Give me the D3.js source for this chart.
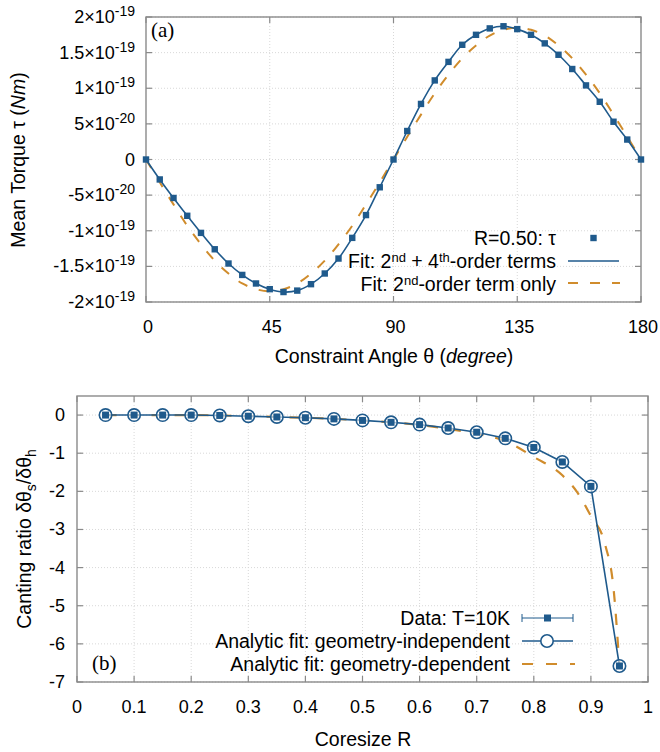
<!DOCTYPE html>
<html>
<head>
<meta charset="utf-8">
<script src="https://cdn.jsdelivr.net/npm/d3@7"></script>
<style>
  body { margin: 0; background: #fff; }
  svg { display: block; font-family: "Liberation Sans", Arial, sans-serif; }
</style>
</head>
<body>
<div id="chart"></div>
<script>
// ---- panel (a): mean torque vs constraint angle ----
const angles = [0,5,10,15,20,25,30,35,40,45,50,55,60,65,70,75,80,85,90,
  95,100,105,110,115,120,125,130,135,140,145,150,155,160,165,170,175,180];
// values in units of 1e-19 Nm
const torque = [0,-0.28,-0.54,-0.79,-1.03,-1.26,-1.46,-1.62,-1.74,-1.82,-1.86,-1.84,-1.75,-1.60,-1.39,-1.10,-0.78,-0.39,0,
  0.40,0.78,1.11,1.37,1.61,1.75,1.84,1.87,1.83,1.75,1.63,1.47,1.27,1.04,0.81,0.53,0.28,0];
const fit2Angles = [0,5,10,15,20,25,30,35,40,45,50,55,60,65,70,75,80,85,90,
  95,100,105,110,115,120,125,130,135,140,145,150,155,160,165,170,175,180];
const fit2 = [0,-0.32,-0.63,-0.93,-1.19,-1.42,-1.60,-1.74,-1.82,-1.85,-1.82,-1.74,-1.60,-1.42,-1.19,-0.93,-0.63,-0.32,0,
  0.32,0.63,0.93,1.19,1.42,1.60,1.74,1.82,1.85,1.82,1.74,1.60,1.42,1.19,0.93,0.63,0.32,0];
const angleTicks = [0,45,90,135,180];
const torqueTicks = [2,1.5,1,0.5,0,-0.5,-1,-1.5,-2];
const torqueTickLabels = [["2×10","-19"],["1.5×10","-19"],["1×10","-19"],["5×10","-20"],["0",""],
  ["-5×10","-20"],["-1×10","-19"],["-1.5×10","-19"],["-2×10","-19"]];

// ---- panel (b): canting ratio vs coresize ----
const coresize = [0.05,0.1,0.15,0.2,0.25,0.3,0.35,0.4,0.45,0.5,0.55,0.6,0.65,0.7,0.75,0.8,0.85,0.9,0.95];
const canting = [0,0,0,0,-0.01,-0.03,-0.05,-0.07,-0.10,-0.14,-0.19,-0.25,-0.34,-0.45,-0.61,-0.85,-1.23,-1.87,-6.58];
const geoDepR = [0.05,0.1,0.15,0.2,0.25,0.3,0.35,0.4,0.45,0.5,0.55,0.6,0.65,0.7,0.75,0.8,0.85,0.875,0.9,0.925,0.94,0.95];
const geoDep = [0,0,0,0,-0.01,-0.03,-0.05,-0.07,-0.10,-0.14,-0.19,-0.26,-0.36,-0.49,-0.68,-1.1,-1.58,-2.0,-2.65,-3.4,-4.6,-6.6];
const rTicks = [0,0.1,0.2,0.3,0.4,0.5,0.6,0.7,0.8,0.9,1];
const rTickLabels = ["0","0.1","0.2","0.3","0.4","0.5","0.6","0.7","0.8","0.9","1"];
const cantTicks = [0,-1,-2,-3,-4,-5,-6,-7];

const blue = "#1f5a8c", orange = "#d08c2c", frameColor = "#8a8a8a", gridColor = "#d8d8d8";
const width = 660, height = 752;
const tickFont = 18, textFont = 19.5;

const svg = d3.select("#chart").append("svg")
    .attr("width", width)
    .attr("height", height)
    .attr("viewBox", [0, 0, width, height]);

// writes mixed text: parts are [string, mode], mode in "", "sup", "sub", "i"
function rich(text, parts, small = 13, raise = 7) {
  let shift = 0;
  parts.forEach(([s, mode]) => {
    if (!s) return;
    const t = text.append("tspan").text(s);
    let target = 0;
    if (mode === "sup") { target = -raise; t.attr("font-size", small); }
    if (mode === "sub") { target = 5; t.attr("font-size", small); }
    if (mode === "i") t.attr("font-style", "italic");
    if (target !== shift) t.attr("dy", target - shift);
    shift = target;
  });
  return text;
}

function frame(g, x, y, xTicks, yTicks) {
  const [x0, x1] = x.range(), [y0, y1] = y.range();
  // dotted grid
  g.append("g").selectAll("line").data(xTicks.slice(1, -1)).join("line")
      .attr("x1", d => x(d)).attr("x2", d => x(d)).attr("y1", y1).attr("y2", y0)
      .attr("stroke", gridColor).attr("stroke-dasharray", "1,2");
  g.append("g").selectAll("line").data(yTicks).join("line")
      .attr("x1", x0).attr("x2", x1).attr("y1", d => y(d)).attr("y2", d => y(d))
      .attr("stroke", gridColor).attr("stroke-dasharray", "1,2");
  // inward ticks on all four sides
  const tk = 6;
  const tg = g.append("g").attr("stroke", frameColor).attr("stroke-width", 1.2);
  xTicks.forEach(d => {
    tg.append("line").attr("x1", x(d)).attr("x2", x(d)).attr("y1", y0).attr("y2", y0 - tk);
    tg.append("line").attr("x1", x(d)).attr("x2", x(d)).attr("y1", y1).attr("y2", y1 + tk);
  });
  yTicks.forEach(d => {
    tg.append("line").attr("x1", x0).attr("x2", x0 + tk).attr("y1", y(d)).attr("y2", y(d));
    tg.append("line").attr("x1", x1).attr("x2", x1 - tk).attr("y1", y(d)).attr("y2", y(d));
  });
  g.append("rect")
      .attr("x", x0).attr("y", y1).attr("width", x1 - x0).attr("height", y0 - y1)
      .attr("fill", "none").attr("stroke", frameColor).attr("stroke-width", 1.4);
}

// ================= panel (a) =================
{
  const x = d3.scaleLinear([0, 180], [146, 641]);
  const y = d3.scaleLinear([-2, 2], [302, 17]);
  const g = svg.append("g");
  frame(g, x, y, angleTicks, torqueTicks);

  const line = d3.line().x(d => x(d[0])).y(d => y(d[1])).curve(d3.curveCatmullRom);
  g.append("path")
      .attr("d", line(d3.zip(fit2Angles, fit2)))
      .attr("fill", "none").attr("stroke", orange).attr("stroke-width", 2)
      .attr("stroke-dasharray", "10,12");
  g.append("path")
      .attr("d", line(d3.zip(angles, torque)))
      .attr("fill", "none").attr("stroke", blue).attr("stroke-width", 1.6);
  g.append("g").attr("fill", blue)
    .selectAll("rect").data(d3.zip(angles, torque)).join("rect")
      .attr("x", d => x(d[0]) - 3.2).attr("y", d => y(d[1]) - 3.2)
      .attr("width", 6.4).attr("height", 6.4);

  // tick labels
  g.append("g").attr("font-size", tickFont).attr("text-anchor", "middle")
    .selectAll("text").data(angleTicks).join("text")
      .attr("x", d => x(d) + 2).attr("y", 333).text(d => d);
  const yl = g.append("g").attr("font-size", tickFont).attr("text-anchor", "end");
  torqueTicks.forEach((d, i) => {
    const [m, e] = torqueTickLabels[i];
    rich(yl.append("text").attr("x", 135).attr("y", y(d) + 6), [[m, ""], [e, "sup"]], 14);
  });

  // axis titles
  rich(g.append("text").attr("font-size", textFont).attr("text-anchor", "middle")
      .attr("x", 394).attr("y", 363),
    [["Constraint Angle θ (", ""], ["degree", "i"], [")", ""]]);
  rich(g.append("text").attr("font-size", textFont).attr("text-anchor", "middle")
      .attr("transform", "translate(25,160) rotate(-90)"),
    [["Mean Torque τ (", ""], ["Nm", "i"], [")", ""]]);

  g.append("text").attr("x", 151).attr("y", 37)
      .attr("font-family", "Liberation Serif, serif").attr("font-size", 21).text("(a)");

  // legend
  const lg = g.append("g").attr("font-size", textFont).attr("text-anchor", "end");
  rich(lg.append("text").attr("x", 556).attr("y", 245), [["R=0.50: τ", ""]]);
  lg.append("rect").attr("x", 590.3).attr("y", 234.8).attr("width", 6.4).attr("height", 6.4).attr("fill", blue);
  rich(lg.append("text").attr("x", 556).attr("y", 268),
    [["Fit: 2", ""], ["nd", "sup"], [" + 4", ""], ["th", "sup"], ["-order terms", ""]], 13, 6);
  lg.append("line").attr("x1", 568).attr("x2", 619).attr("y1", 261).attr("y2", 261)
      .attr("stroke", blue).attr("stroke-width", 1.6);
  rich(lg.append("text").attr("x", 556).attr("y", 291),
    [["Fit: 2", ""], ["nd", "sup"], ["-order term only", ""]], 13, 6);
  lg.append("line").attr("x1", 568).attr("x2", 620).attr("y1", 283).attr("y2", 283)
      .attr("stroke", orange).attr("stroke-width", 2).attr("stroke-dasharray", "10,12");
}

// ================= panel (b) =================
{
  const x = d3.scaleLinear([0, 1], [77, 648]);
  const y = d3.scaleLinear([-7, 0.5], [682, 396]);
  const g = svg.append("g");
  frame(g, x, y, rTicks, cantTicks);

  g.append("path")
      .attr("d", d3.line().x(d => x(d[0])).y(d => y(d[1])).curve(d3.curveMonotoneX)(d3.zip(geoDepR, geoDep)))
      .attr("fill", "none").attr("stroke", orange).attr("stroke-width", 2.2)
      .attr("stroke-dasharray", "11,12");
  g.append("path")
      .attr("d", d3.line().x(d => x(d[0])).y(d => y(d[1]))(d3.zip(coresize, canting)))
      .attr("fill", "none").attr("stroke", blue).attr("stroke-width", 1.6);
  const pts = d3.zip(coresize, canting);
  g.append("g").selectAll("circle").data(pts).join("circle")
      .attr("cx", d => x(d[0])).attr("cy", d => y(d[1])).attr("r", 6.2)
      .attr("fill", "#fff").attr("fill-opacity", 0.6)
      .attr("stroke", blue).attr("stroke-width", 1.6);
  g.append("g").attr("fill", blue).selectAll("rect").data(pts).join("rect")
      .attr("x", d => x(d[0]) - 3.5).attr("y", d => y(d[1]) - 3.5)
      .attr("width", 7).attr("height", 7);

  g.append("g").attr("font-size", tickFont).attr("text-anchor", "middle")
    .selectAll("text").data(rTicks).join("text")
      .attr("x", d => x(d)).attr("y", 713).text((d, i) => rTickLabels[i]);
  g.append("g").attr("font-size", tickFont).attr("text-anchor", "end")
    .selectAll("text").data(cantTicks).join("text")
      .attr("x", 65).attr("y", d => y(d) + 6).text(d => d);

  g.append("text").attr("font-size", textFont).attr("text-anchor", "middle")
      .attr("x", 363).attr("y", 746).text("Coresize R");
  rich(g.append("text").attr("font-size", textFont).attr("text-anchor", "middle")
      .attr("transform", "translate(31,539) rotate(-90)"),
    [["Canting ratio δθ", ""], ["s", "sub"], ["/δθ", ""], ["h", "sub"]], 14);

  g.append("text").attr("x", 92).attr("y", 670)
      .attr("font-family", "Liberation Serif, serif").attr("font-size", 21).text("(b)");

  // legend
  const lg = g.append("g").attr("font-size", textFont).attr("text-anchor", "end");
  lg.append("text").attr("x", 510).attr("y", 625).text("Data: T=10K");
  lg.append("line").attr("x1", 522).attr("x2", 573).attr("y1", 618).attr("y2", 618)
      .attr("stroke", blue).attr("stroke-width", 1);
  [522, 573].forEach(cx => lg.append("line").attr("x1", cx).attr("x2", cx)
      .attr("y1", 614).attr("y2", 622).attr("stroke", blue).attr("stroke-width", 1));
  lg.append("rect").attr("x", 544).attr("y", 614.5).attr("width", 7).attr("height", 7).attr("fill", blue);

  lg.append("text").attr("x", 510).attr("y", 648).text("Analytic fit: geometry-independent");
  lg.append("line").attr("x1", 522).attr("x2", 573).attr("y1", 641).attr("y2", 641)
      .attr("stroke", blue).attr("stroke-width", 1.6);
  lg.append("circle").attr("cx", 547).attr("cy", 641).attr("r", 6.2)
      .attr("fill", "#fff").attr("stroke", blue).attr("stroke-width", 1.6);

  lg.append("text").attr("x", 510).attr("y", 671).text("Analytic fit: geometry-dependent");
  lg.append("line").attr("x1", 522).attr("x2", 575).attr("y1", 664).attr("y2", 664)
      .attr("stroke", orange).attr("stroke-width", 2.2).attr("stroke-dasharray", "11,13");
}
</script>
</body>
</html>
